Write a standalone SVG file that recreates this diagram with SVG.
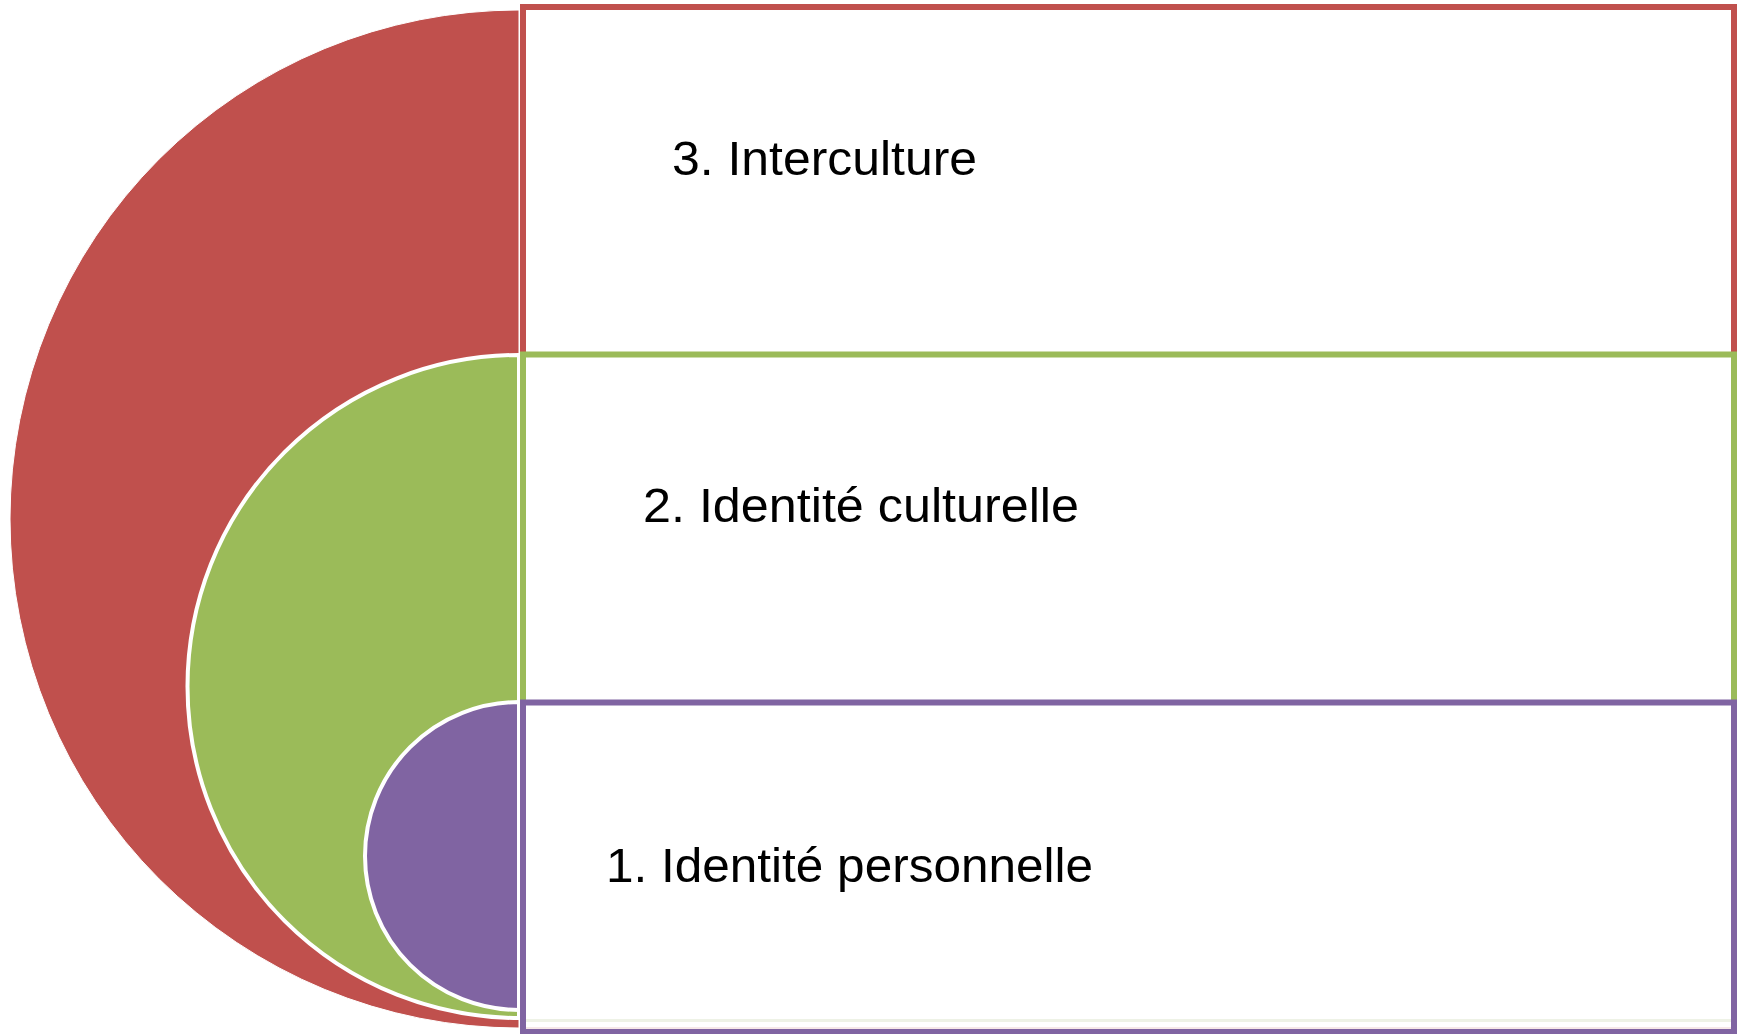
<svg xmlns="http://www.w3.org/2000/svg" width="1739" height="1034" viewBox="0 0 1739 1034">
<style>
.lbl{font-family:"Liberation Sans",Arial,sans-serif;font-size:48px;fill:#000}
.box{fill:#fff;stroke-width:6}
</style>
<rect width="1739" height="1034" fill="#fff"/>
<g id="shapes">
<g id="arc-red"><path d="M519,10 A509,509 0 0 0 519,1028 Z" fill="#C0504D" stroke="#fff" stroke-width="1"/></g>
<g id="arc-green"><path d="M519,355 A331.5,331.5 0 0 0 519,1018 Z" fill="#9BBB59" stroke="#fff" stroke-width="4"/></g>
<g id="arc-purple"><path d="M519,702 A154,154 0 0 0 519,1010 Z" fill="#8064A2" stroke="#fff" stroke-width="4"/></g>
</g>
<g id="connectors"></g>
<g id="node-3">
<rect class="box" x="523" y="7" width="1211" height="1021" stroke="#C0504D"/>
</g>
<g id="node-2">
<rect class="box" x="523" y="354.5" width="1211" height="666" stroke="#9BBB59"/>
</g>
<g id="node-1">
<rect class="box" x="523" y="702.5" width="1211" height="329" stroke="#8064A2"/>
<rect x="526" y="1019" width="1205" height="3" fill="#EEF2E6"/>
<rect x="526" y="1027" width="1205" height="2" fill="#F6E8E8"/>
</g>
<g id="labels">
<text class="lbl" x="672" y="175" textLength="305" lengthAdjust="spacingAndGlyphs">3. Interculture</text>
<text class="lbl" x="643" y="522" textLength="436" lengthAdjust="spacingAndGlyphs">2. Identité culturelle</text>
<text class="lbl" x="606" y="882" textLength="487" lengthAdjust="spacingAndGlyphs">1. Identité personnelle</text>
</g>
</svg>
